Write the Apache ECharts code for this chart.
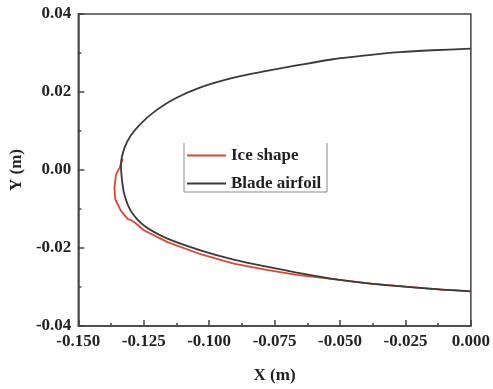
<!DOCTYPE html>
<html>
<head>
<meta charset="utf-8">
<script src="https://cdn.jsdelivr.net/npm/echarts@6/dist/echarts.min.js"></script>
<style>
  html, body { margin: 0; padding: 0; background: #fff; }
  #chart { width: 493px; height: 389px; }
</style>
</head>
<body>
<div id="chart"></div>
<script>
// blade airfoil, traced from upper trailing edge round the nose to lower trailing edge
const bladeX = [0, -0.0147, -0.0273, -0.040, -0.0527, -0.0666, -0.0780, -0.0906, -0.1033, -0.1134, -0.1210, -0.1261, -0.1299, -0.1324, -0.1337, -0.1334, -0.1324, -0.1299, -0.1248, -0.1159, -0.1033, -0.0906, -0.0780, -0.0666, -0.0501, -0.0375, -0.0121, 0]
const bladeY = [0.0311, 0.0307, 0.0302, 0.0294, 0.0284, 0.0268, 0.0254, 0.0237, 0.0212, 0.0182, 0.0149, 0.0119, 0.0089, 0.0056, 0.0013, -0.0020, -0.0063, -0.0105, -0.0143, -0.0176, -0.0206, -0.0230, -0.0248, -0.0263, -0.0282, -0.0292, -0.0306, -0.0311]

// ice shape on the lower side of the nose
const iceX = [-0.1330, -0.1343, -0.1356, -0.1362, -0.1359, -0.1337, -0.1311, -0.1300, -0.1286, -0.1248, -0.1159, -0.1033, -0.0906, -0.0780, -0.0666, -0.0550, -0.0375, -0.0121, 0]
const iceY = [0.0029, 0.0005, -0.0012, -0.0046, -0.0075, -0.0105, -0.0126, -0.0128, -0.0134, -0.0155, -0.0185, -0.0216, -0.0240, -0.0256, -0.0269, -0.0278, -0.0292, -0.0306, -0.0311]

const seriesNames = ['Ice shape', 'Blade airfoil']

const font = 'Liberation Serif'
const axisColor = '#444'

const chart = echarts.init(document.getElementById('chart'), null, { renderer: 'canvas' })

function pairs(xs, ys) {
  return xs.map((x, i) => [x, ys[i]])
}

const axisCommon = {
  type: 'value',
  nameLocation: 'middle',
  nameTextStyle: { fontFamily: font, fontWeight: 'bold', fontSize: 17, color: '#222' },
  axisLine: { show: true, onZero: false, lineStyle: { color: axisColor, width: 1.5 } },
  axisTick: { show: true, inside: true, length: 6, lineStyle: { color: axisColor, width: 1.5 } },
  minorTick: { show: true, splitNumber: 2, length: 3, lineStyle: { color: axisColor, width: 1.5 } },
  splitLine: { show: false },
  axisLabel: { fontFamily: font, fontWeight: 'bold', fontSize: 17, color: '#222' },
}

chart.setOption({
  animation: false,
  grid: {
    left: 77,
    right: 21,
    top: 14,
    bottom: 59,
    show: true,
    borderColor: axisColor,
    borderWidth: 1.5,
  },
  legend: {
    data: seriesNames,
    orient: 'vertical',
    left: 186,
    top: 147,
    padding: 0,
    itemWidth: 39,
    itemHeight: 16,
    itemGap: 11,
    itemStyle: { opacity: 0 },
    textStyle: { fontFamily: font, fontWeight: 'bold', fontSize: 17, color: '#222' },
  },
  graphic: [{
    type: 'polyline',
    shape: { points: [[184, 143], [184, 192], [327, 192], [327, 143]] },
    style: { stroke: '#888', lineWidth: 1, fill: null },
  }],
  xAxis: {
    ...axisCommon,
    name: 'X (m)',
    nameGap: 41,
    min: -0.15,
    max: 0,
    interval: 0.025,
    axisLabel: { ...axisCommon.axisLabel, margin: 7, formatter: (v) => v.toFixed(3) },
  },
  yAxis: {
    ...axisCommon,
    name: 'Y (m)',
    nameGap: 51,
    min: -0.04,
    max: 0.04,
    interval: 0.02,
    axisLabel: { ...axisCommon.axisLabel, margin: 7, formatter: (v) => v.toFixed(2) },
  },
  series: [
    {
      name: 'Ice shape',
      type: 'line',
      data: pairs(iceX, iceY),
      showSymbol: false,
      symbol: 'none',
      lineStyle: { color: '#e0462e', width: 1.8 },
      itemStyle: { color: '#e0462e' },
    },
    {
      name: 'Blade airfoil',
      type: 'line',
      data: pairs(bladeX, bladeY),
      showSymbol: false,
      symbol: 'none',
      smooth: 0.3,
      lineStyle: { color: '#3a3a3a', width: 1.8 },
      itemStyle: { color: '#3a3a3a' },
    },
  ],
})
</script>
</body>
</html>
